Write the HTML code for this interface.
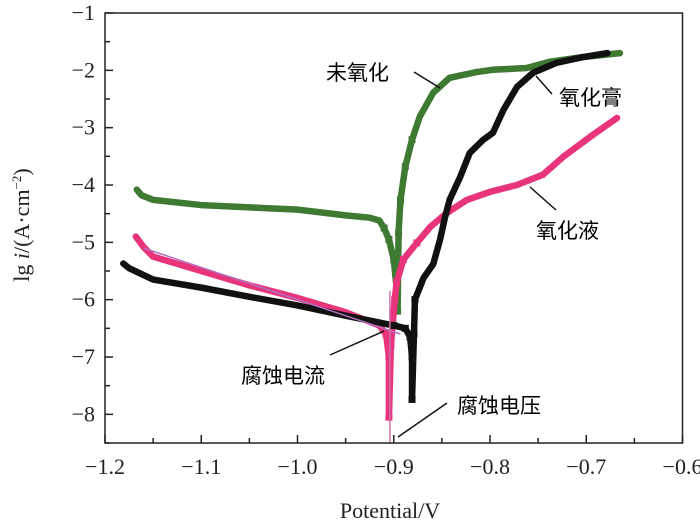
<!DOCTYPE html>
<html><head><meta charset="utf-8"><style>
body{margin:0;background:#fff}
svg{display:block;font-family:"Liberation Serif","Noto Serif CJK SC",serif}
.cj{font-family:"Liberation Serif","Noto Sans CJK SC",sans-serif;font-size:21px}
</style></head><body>
<svg id="c" width="700" height="527"></svg>
<script>
const xTicks=[-1.2,-1.1,-1.0,-0.9,-0.8,-0.7,-0.6];
const xTickLabels=["−1.2","−1.1","−1.0","−0.9","−0.8","−0.7","−0.6"];
const yTicks=[-1,-2,-3,-4,-5,-6,-7,-8];
const yTickLabels=["−1","−2","−3","−4","−5","−6","−7","−8"];
const greenX=[-1.167,-1.162,-1.15,-1.1,-1.0,-0.95,-0.925,-0.915,-0.91,-0.905,-0.9,-0.897,-0.896,-0.895,-0.893,-0.888,-0.881,-0.873,-0.859,-0.842,-0.814,-0.797,-0.762,-0.738,-0.704,-0.665];
const greenY=[-4.08,-4.18,-4.26,-4.35,-4.43,-4.53,-4.57,-4.62,-4.75,-4.95,-5.3,-5.8,-6.2,-4.84,-4.26,-3.68,-3.21,-2.81,-2.39,-2.13,-2.03,-1.99,-1.96,-1.85,-1.77,-1.7];
const blackX=[-1.181,-1.175,-1.15,-1.1,-1.05,-1.0,-0.95,-0.9,-0.888,-0.883,-0.881,-0.881,-0.879,-0.878,-0.869,-0.859,-0.852,-0.847,-0.842,-0.831,-0.821,-0.807,-0.797,-0.786,-0.772,-0.755,-0.731,-0.704,-0.678];
const blackY=[-5.37,-5.45,-5.65,-5.79,-5.95,-6.1,-6.28,-6.45,-6.5,-6.65,-7.0,-7.74,-6.6,-6.0,-5.62,-5.38,-4.96,-4.58,-4.26,-3.86,-3.44,-3.21,-3.09,-2.69,-2.29,-2.04,-1.87,-1.77,-1.7];
const pinkX=[-1.168,-1.16,-1.15,-1.1,-1.05,-1.0,-0.95,-0.915,-0.908,-0.905,-0.905,-0.903,-0.899,-0.897,-0.89,-0.876,-0.862,-0.845,-0.824,-0.8,-0.772,-0.745,-0.724,-0.696,-0.668];
const pinkY=[-4.9,-5.08,-5.25,-5.5,-5.75,-5.97,-6.22,-6.45,-6.6,-7.0,-8.05,-6.8,-6.0,-5.7,-5.3,-5.01,-4.73,-4.49,-4.26,-4.12,-4.0,-3.82,-3.51,-3.16,-2.83];
const L=105,R=682.5,T=13,B=443;
const sx=v=>L+(v+1.2)/0.6*(R-L);
function Y(v){return T+(-1-v)/7.5*(B-T);}
const svg=document.getElementById('c');const NS="http://www.w3.org/2000/svg";
function mk(t,a,p){const e=document.createElementNS(NS,t);for(const k in a)e.setAttribute(k,a[k]);(p||svg).appendChild(e);return e;}
function series(xs,ys,col,name){
  const g=mk('g',{});
  
  
  mk('polyline',{points:xs.map((x,i)=>sx(x)+','+Y(ys[i])).join(' '),fill:'none',stroke:col,'stroke-width':6.5,'stroke-linejoin':'round','stroke-linecap':'round'},g);
  xs.forEach((x,i)=>{if(x>-0.912&&x<-0.874){mk('rect',{x:sx(x)-3.5,y:Y(ys[i])-3.5,width:7,height:7,fill:col},g);}});
}
series(greenX,greenY,'#3e7a32','series-unoxidized');
series(pinkX,pinkY,'#e8347a','series-oxidizing-liquid');
series(blackX,blackY,'#111','series-oxide-paste');
const t1=mk('line',{x1:sx(-1.16),y1:Y(-5.1),x2:sx(-0.893),y2:Y(-6.6),stroke:'#b070c0','stroke-width':1.5});


const t2=mk('line',{x1:sx(-0.904),y1:Y(-5.85),x2:sx(-0.904),y2:B,stroke:'#d070b0','stroke-width':1.5});


const fr=mk('rect',{x:L,y:T,width:R-L,height:B-T,fill:'none',stroke:'#222','stroke-width':1.5});


xTicks.forEach((v,i)=>{
  mk('line',{x1:sx(v),y1:B,x2:sx(v),y2:B-8,stroke:'#222','stroke-width':1.5});
  if(i<xTicks.length-1)mk('line',{x1:sx(v+0.05),y1:B,x2:sx(v+0.05),y2:B-5,stroke:'#222','stroke-width':1.5});
  const t=mk('text',{x:sx(v),y:B+31,'font-size':22,'text-anchor':'middle',fill:'#222'});t.textContent=xTickLabels[i];
  
  
});
yTicks.forEach((v,i)=>{
  mk('line',{x1:L,y1:Y(v),x2:L+8,y2:Y(v),stroke:'#222','stroke-width':1.5});
  mk('line',{x1:L,y1:Y(v-0.5),x2:L+5,y2:Y(v-0.5),stroke:'#222','stroke-width':1.5});
  const t=mk('text',{x:L-10,y:Y(v)+7,'font-size':22,'text-anchor':'end',fill:'#222'});t.textContent=yTickLabels[i];
  
  
});
</script>
<script>
const s2=document.getElementById('c');
s2.insertAdjacentHTML('beforeend',`
<text x="390" y="518" font-size="22" text-anchor="middle" fill="#222">Potential/V</text>
<text transform="translate(29,225) rotate(-90)" font-size="22" text-anchor="middle" fill="#222">lg <tspan font-style="italic">i</tspan>/(A·cm<tspan font-size="13" dy="-8">−2</tspan><tspan dy="8">)</tspan></text>
<g stroke="#111" stroke-width="1.5">
<line x1="414" y1="72" x2="440" y2="88"/><line x1="536" y1="76" x2="552" y2="94"/>
<line x1="530" y1="187" x2="556" y2="210"/><line x1="330" y1="355" x2="384" y2="331"/>
<line x1="447" y1="403" x2="398" y2="437"/></g>
<text class="cj" x="326" y="80">未氧化</text>
<text class="cj" x="559" y="105">氧化膏</text>
<text class="cj" x="536" y="238">氧化液</text>
<text class="cj" x="241" y="383">腐蚀电流</text>
<text class="cj" x="457" y="413">腐蚀电压</text>`);
</script>
</body></html>
